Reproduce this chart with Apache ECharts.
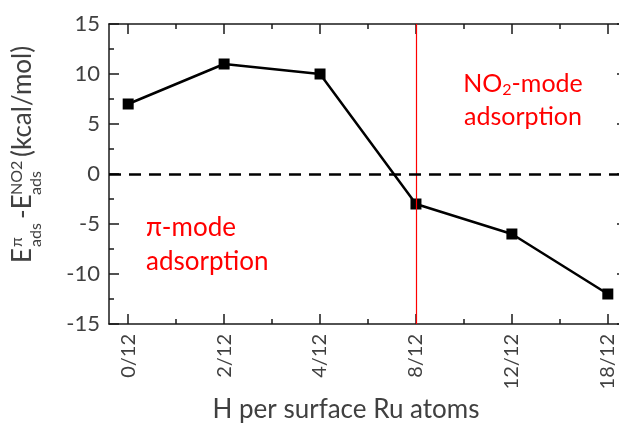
<!DOCTYPE html>
<html lang="en">
<head>
    <meta charset="UTF-8">
    <title>E_ads difference vs H coverage</title>
    <script src="https://cdn.jsdelivr.net/npm/echarts@6/dist/echarts.min.js"></script>
    <style>
        html, body { margin: 0; padding: 0; background: #fff; }
        #chart { width: 619px; height: 425px; }
    </style>
</head>
<body>
    <div id="chart"></div>
    <script>
        // data
        const coverage = ['0/12', '2/12', '4/12', '8/12', '12/12', '18/12'];
        const deltaE = [7, 11, 10, -3, -6, -12];
        const switchAt = '8/12';   // red line: pi-mode -> NO2-mode
        const yTicks = { min: -15, max: 15, step: 5 };

        const FONT = 'Lato';
        const idx = coverage.map((c, i) => i);
        const mids = idx.slice(0, -1).map(i => i + 0.5);
        const xMin = -0.2, xMax = coverage.length - 1 + 0.2;

        const chart = echarts.init(document.getElementById('chart'));

        const lineCol = '#1a1a1a';
        const txtCol = '#404040';

        function xAx(pos, ticks, len, withLine, withLabel) {
            return {
                type: 'value', position: pos, min: xMin, max: xMax,
                axisLine: { show: withLine, onZero: false, lineStyle: { color: lineCol, width: 1.5 } },
                axisTick: { show: true, inside: true, length: len, customValues: ticks,
                    lineStyle: { color: lineCol, width: 1.5 } },
                axisLabel: {
                    show: withLabel, customValues: ticks, rotate: 90, margin: 10,
                    fontFamily: FONT, fontSize: 20, color: txtCol,
                    formatter: v => coverage[Math.round(v)]
                },
                splitLine: { show: false }
            };
        }
        function yAx(pos, withLabel) {
            return {
                type: 'value', position: pos, min: yTicks.min, max: yTicks.max, interval: yTicks.step,
                axisLine: { show: true, onZero: false, lineStyle: { color: lineCol, width: 1.5 } },
                axisTick: { show: true, inside: true, length: 10, lineStyle: { color: lineCol, width: 1.5 } },
                minorTick: { show: true, splitNumber: 2, length: 5, lineStyle: { color: lineCol, width: 1.5 } },
                axisLabel: { show: withLabel, margin: 9, fontFamily: FONT, fontSize: 22, color: txtCol },
                splitLine: { show: false }
            };
        }

        const sub = 16, main = 26;
        const red = '#ff0000';

        const option = {
            animation: false,
            grid: { left: 109, top: 24, width: 518, height: 300, containLabel: false, outerBoundsMode: 'none' },
            xAxis: [
                xAx('bottom', idx, 10, true, true),
                xAx('bottom', mids, 5, false, false),
                xAx('top', idx, 10, true, false),
                xAx('top', mids, 5, false, false)
            ],
            yAxis: [yAx('left', true), yAx('right', false)],
            series: [
                {
                    type: 'line',
                    data: [],
                    markLine: {
                        silent: true, symbol: 'none', label: { show: false },
                        lineStyle: { color: red, width: 1.2, type: 'solid' },
                        data: [{ xAxis: coverage.indexOf(switchAt) }]
                    },
                    z: 2
                },
                {
                    type: 'line',
                    data: deltaE.map((v, i) => [i, v]),
                    symbol: 'rect', symbolSize: 11,
                    itemStyle: { color: '#000' },
                    lineStyle: { color: '#000', width: 2.5 },
                    markLine: {
                        silent: true, symbol: 'none', label: { show: false },
                        lineStyle: { color: '#000', width: 2.5, type: [12, 8] },
                        data: [{ yAxis: 0 }]
                    },
                    z: 3
                }
            ],
            graphic: [
                {
                    type: 'text', x: 346, y: 410,
                    style: { text: 'H per surface Ru atoms', align: 'center', verticalAlign: 'middle',
                        fontFamily: FONT, fontSize: 26, fill: txtCol }
                },
                {
                    type: 'text', x: 523, y: 100,
                    style: {
                        text: '{a|NO}{s|2}{a|-mode}\n{a|adsorption}', align: 'center', verticalAlign: 'middle',
                        rich: {
                            a: { fontFamily: FONT, fontSize: 25, fill: red, lineHeight: 33 },
                            s: { fontFamily: FONT, fontSize: 16, fill: red, lineHeight: 33, padding: [12, 0, 0, 0] }
                        }
                    }
                },
                {
                    type: 'text', x: 146, y: 245,
                    style: {
                        text: 'π-mode\nadsorption', align: 'left', verticalAlign: 'middle',
                        fontFamily: FONT, fontSize: 26, fill: red, lineHeight: 34
                    }
                },
                {
                    type: 'group', x: 31, y: 263, rotation: Math.PI / 2,
                    children: [
                        { type: 'text', x: 0, y: -8, style: { text: 'E', fontFamily: FONT, fontSize: main, fill: txtCol, verticalAlign: 'middle' } },
                        { type: 'text', x: 16, y: -14, style: { text: 'π', fontFamily: FONT, fontSize: sub, fill: txtCol, verticalAlign: 'middle' } },
                        { type: 'text', x: 16, y: 5, style: { text: 'ads', fontFamily: FONT, fontSize: sub, fill: txtCol, verticalAlign: 'middle' } },
                        { type: 'text', x: 44, y: -8, style: { text: '-E', fontFamily: FONT, fontSize: main, fill: txtCol, verticalAlign: 'middle' } },
                        { type: 'text', x: 68, y: -14, style: { text: 'NO2', fontFamily: FONT, fontSize: sub, fill: txtCol, verticalAlign: 'middle' } },
                        { type: 'text', x: 68, y: 5, style: { text: 'ads', fontFamily: FONT, fontSize: sub, fill: txtCol, verticalAlign: 'middle' } },
                        { type: 'text', x: 106, y: -8, style: { text: '(kcal/mol)', fontFamily: FONT, fontSize: main, fill: txtCol, verticalAlign: 'middle' } }
                    ]
                }
            ]
        };

        chart.setOption(option);
    </script>
</body>
</html>
